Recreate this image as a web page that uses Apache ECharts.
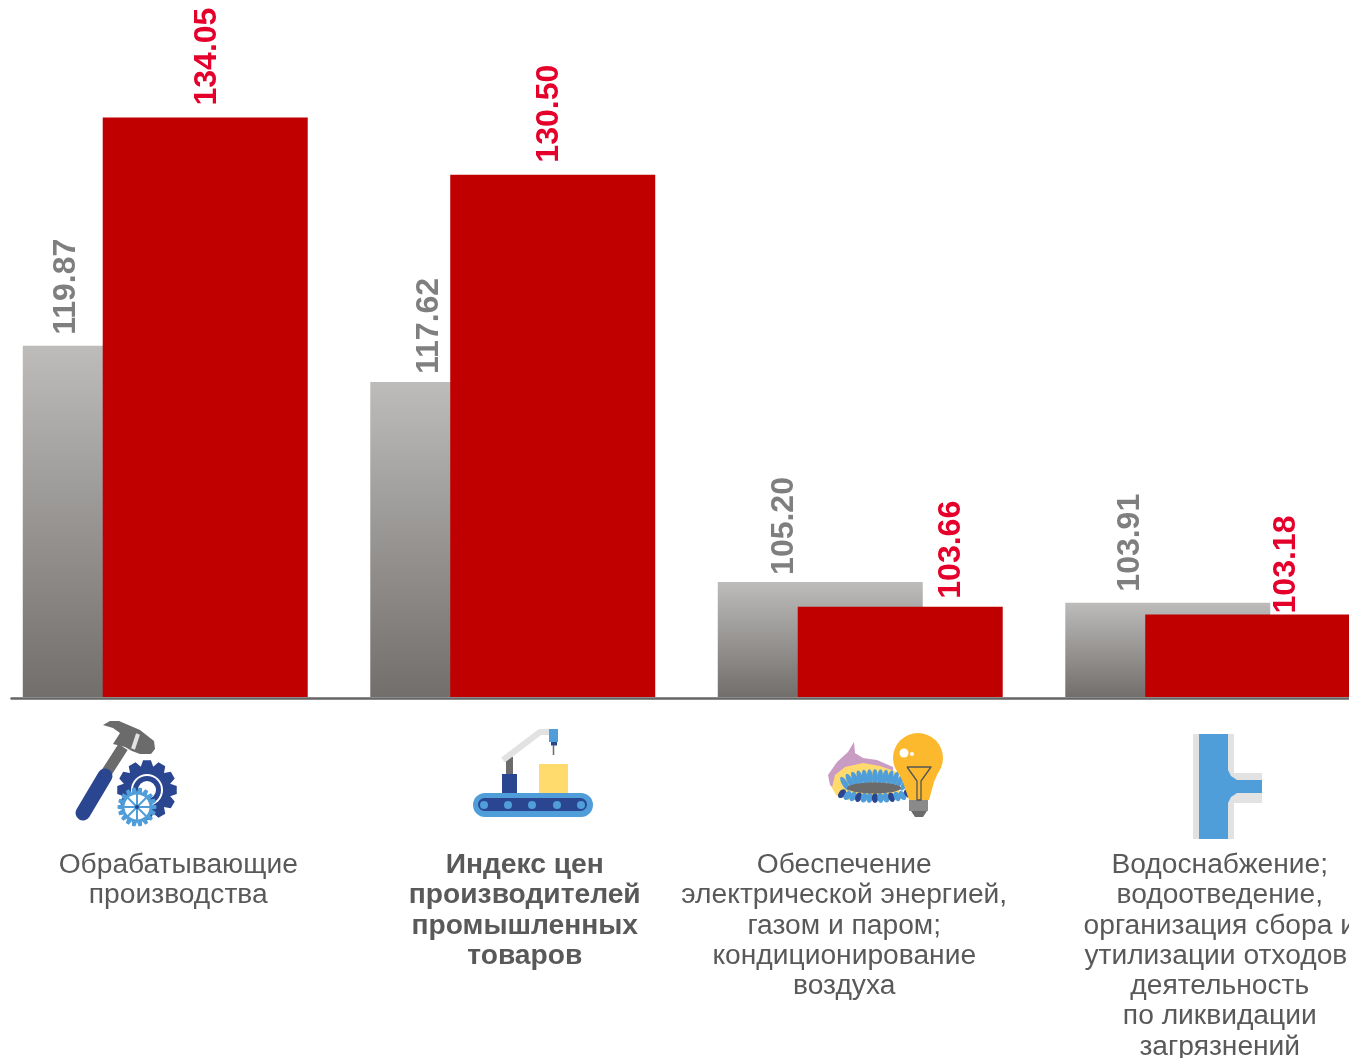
<!DOCTYPE html>
<html><head><meta charset="utf-8">
<style>html,body{margin:0;padding:0;background:#fff;overflow:hidden}#c{width:1349px;height:1058px}</style>
<script src="https://cdn.jsdelivr.net/npm/echarts@6/dist/echarts.min.js"></script>
</head><body><div id="c"></div>
<script>
const categories = [
  'Обрабатывающие\nпроизводства',
  'Индекс цен\nпроизводителей\nпромышленных\nтоваров',
  'Обеспечение\nэлектрической энергией,\nгазом и паром;\nкондиционирование\nвоздуха',
  'Водоснабжение;\nводоотведение,\nорганизация сбора и\nутилизации отходов;\nдеятельность\nпо ликвидации\nзагрязнений'
];
const seriesGrey = [119.87, 117.62, 105.20, 103.91];
const seriesRed = [134.05, 130.50, 103.66, 103.18];

// label nudges: [along the rotated text (up), across it (right)]
const greyLabelNudge = [[11,-59],[8,-44],[7,-36],[11,-38]];
const redLabelNudge = [[12,2],[12,-4],[8,51],[1,38]];
const catPadding = [[0,0,0,26],[0,0,0,24],[0,32,0,0],[0,0,0,24]];

const BLUE='#4f9dd9',NAVY='#2a4690',GREY='#6b6b6b',LIGHT='#e2e2e2',YEL='#ffdb6e';
const poly=(pts,fill)=>({type:'polygon',shape:{points:pts},style:{fill}});
const pl=(pts,stroke,w,cap)=>({type:'polyline',shape:{points:pts},style:{stroke,lineWidth:w,fill:null,lineCap:cap||'butt',lineJoin:'round'}});
const rc=(x,y,w,h,fill,r)=>({type:'rect',shape:{x,y,width:w,height:h,r:r||0},style:{fill}});
const ci=(cx,cy,r,fill)=>({type:'circle',shape:{cx,cy,r},style:{fill}});
function gear(cx,cy,ro,ri,n,fill){
  const p=[];
  for(let i=0;i<n;i++){
    const a=i/n*2*Math.PI,s=Math.PI/n;
    [[ri,-s],[ro,-s*0.5],[ro,s*0.5],[ri,s]].forEach(q=>p.push([cx+q[0]*Math.cos(a+q[1]),cy+q[0]*Math.sin(a+q[1])]));
  }
  return poly(p,fill);
}
const icons=[];
// hammer and gears
icons.push(pl([[123,747],[105,775]],GREY,11));
icons.push(pl([[105,776],[83,813]],NAVY,15,'round'));
icons.push(poly([[103,725],[110,721],[119,721],[140,730],[154,741],[155,749],[151,754],[140,754],[132,751],[125,747],[113,744],[120,733],[113,728]],GREY));
icons.push(pl([[138,734],[133,749]],LIGHT,4));
icons.push(gear(147,790,30,24,12,NAVY));
icons.push(ci(147,790,16,'#fff'),ci(147,790,14,NAVY),ci(147,790,9,'#fff'));
icons.push(gear(137,807,19.5,15,18,BLUE),ci(137,807,12.5,'#fff'));
for(let i=0;i<8;i++){const a=i/8*2*Math.PI;icons.push(pl([[137,807],[137+13*Math.cos(a),807+13*Math.sin(a)]],BLUE,2));}
icons.push(ci(137,807,2,NAVY));
// conveyor
icons.push(rc(473,793,120,24,BLUE,12),rc(478,798,109,13,NAVY,6.5));
[484,508,532,557,581].forEach(x=>icons.push(ci(x,805,4,BLUE)));
icons.push(rc(539,764,29,29,YEL),rc(502,774,15,19,NAVY),rc(506,757,7,17,GREY));
icons.push(pl([[503,760],[540,732],[550,732]],LIGHT,6));
icons.push(rc(549,729,9,13,BLUE),rc(551,742,6,3.5,NAVY),pl([[553.5,745],[553.5,755]],GREY,1.5));
// burner and bulb
icons.push(poly([[828,775],[837,762],[848,752],[854,742],[855,753],[863,758],[877,760],[893,767],[895,785],[837,792],[830,785]],'#c99cc4'));
icons.push(poly([[832,788],[835,775],[845,767],[863,763],[880,766],[897,772],[900,797],[847,800],[836,795]],YEL));
for(let i=0;i<13;i++){
  const t=(i-6)/6,x=875+30*t,y=788-11*Math.sqrt(1-t*t*0.85);
  icons.push({type:'ellipse',x,y,rotation:-t*0.55,shape:{cx:0,cy:0,rx:2.8,ry:8},style:{fill:BLUE}});
}
for(let i=0;i<13;i++){
  const t=(i-6)/6,x=875+33*t,y=791+7*Math.sqrt(1-t*t*0.85);
  icons.push({type:'ellipse',x,y,rotation:t*0.7,shape:{cx:0,cy:0,rx:3.2,ry:5},style:{fill:i%3===0?NAVY:BLUE}});
}
icons.push({type:'ellipse',shape:{cx:874,cy:788,rx:27,ry:5.5},style:{fill:GREY}});
icons.push(ci(918,758,25,'#fdb92e'),poly([[895,766],[941,766],[934,782],[929,800],[909,800],[903,782]],'#fdb92e'));
icons.push(ci(904,753,4.5,'#fff'),ci(912,754,2,'#fff'));
icons.push(rc(909,800,19,11,'#8a8a8a'),poly([[911,811],[927,811],[923,817],[915,817]],GREY));
icons.push(pl([[907,767],[931,767],[921,781],[921,800],[917,800],[917,781],[907,767]],'#555',1.3));
// pipe
icons.push(rc(1193,734,41,105,LIGHT),rc(1234,773,28,30,LIGHT),rc(1199,734,29,105,BLUE));
icons.push(poly([[1228,770],[1231,776],[1237,780],[1262,780],[1262,793],[1237,793],[1231,797],[1228,803]],BLUE));

const grad=()=>new echarts.graphic.LinearGradient(0,0,0,1,[{offset:0,color:'#bdbcba'},{offset:1,color:'#726e6c'}]);
const dataWithLabel=(vals,nudge,grey)=>vals.map((v,i)=>({
  value:v,
  itemStyle:grey?{color:grad()}:undefined,
  label:{offset:nudge[i]}
}));
const rich={};
categories.forEach((c,i)=>{
  rich['r'+i]={fontFamily:'Liberation Sans',fontSize:28.2,lineHeight:30.3,color:'#595959',fontWeight:i===1?'bold':'normal',padding:catPadding[i]};
});
const lbl=color=>({show:true,position:'top',distance:0,rotate:90,align:'left',verticalAlign:'middle',
  fontFamily:'Liberation Sans',fontWeight:'bold',fontSize:32,color,formatter:p=>p.value.toFixed(2)});

const chart=echarts.init(document.getElementById('c'),null,{renderer:'canvas'});
chart.setOption({
  animation:false,
  backgroundColor:'#fff',
  grid:[
    {left:-8.5,width:1390,top:0,height:697,outerBoundsMode:'none'},
    {left:11.5,right:0,top:600,height:98,outerBoundsMode:'none'}
  ],
  xAxis:[
    {type:'category',gridIndex:0,data:categories,axisLine:{show:false},axisTick:{show:false},
     axisLabel:{interval:0,margin:153,hideOverlap:false,
       formatter:(v,i)=>v.split('\n').map(s=>'{r'+i+'|'+s+'}').join('\n'),rich}},
    {type:'category',gridIndex:1,data:categories,axisTick:{show:false},axisLabel:{show:false},
     axisLine:{show:true,lineStyle:{color:'#666',width:2.5}},z:10}
  ],
  yAxis:[
    {type:'value',gridIndex:0,min:98.05,max:141.35,show:false},
    {type:'value',gridIndex:1,show:false}
  ],
  series:[
    {type:'bar',name:'grey',xAxisIndex:0,yAxisIndex:0,barWidth:205,barGap:'-61%',
     data:dataWithLabel(seriesGrey,greyLabelNudge,true),label:lbl('#7f7f7f')},
    {type:'bar',name:'red',xAxisIndex:0,yAxisIndex:0,barWidth:205,barGap:'-61%',
     itemStyle:{color:'#c00000'},
     data:dataWithLabel(seriesRed,redLabelNudge,false),label:lbl('#e4002b')}
  ],
  graphic:{elements:icons.map(e=>Object.assign(e,{silent:true,z:20}))}
});
</script></body></html>
